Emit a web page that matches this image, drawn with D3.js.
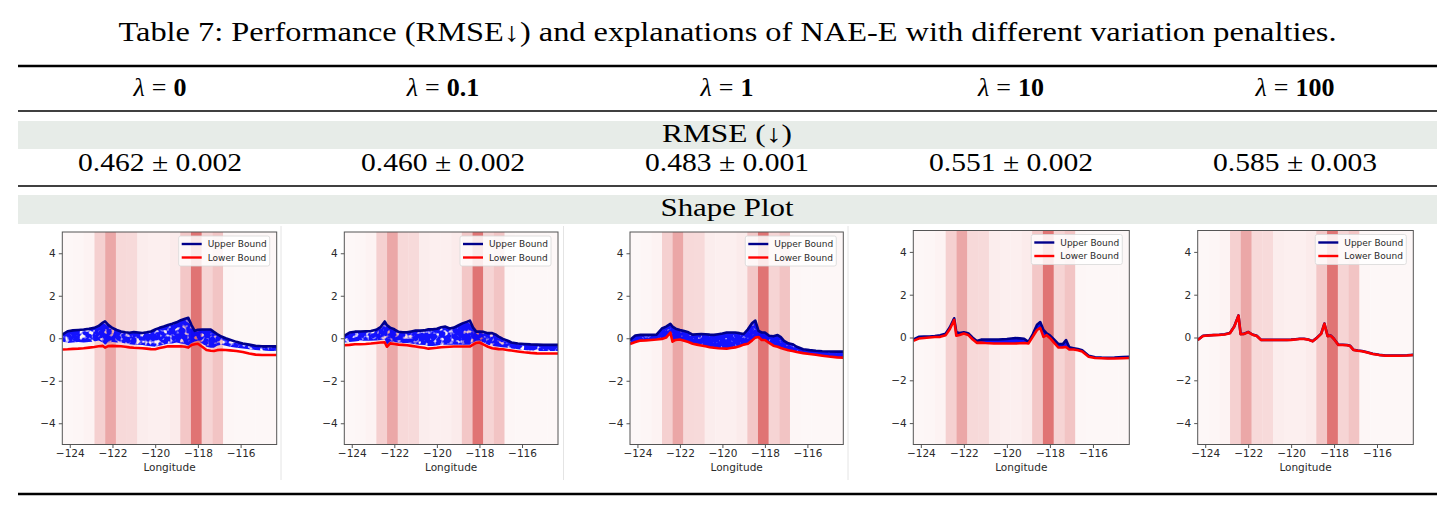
<!DOCTYPE html>
<html>
<head>
<meta charset="utf-8">
<script src="https://cdn.jsdelivr.net/npm/d3@7"></script>
<style>
  body { margin: 0; background: #fff; }
  svg { display: block; }
</style>
</head>
<body>
<svg id="table7" width="1455" height="510"></svg>
<script>
// ---- data ----
var lambdas = ["0", "0.1", "1", "10", "100"];
var rmseMean = ["0.462", "0.460", "0.483", "0.551", "0.585"];
var rmseStd = ["0.002", "0.002", "0.001", "0.002", "0.003"];

var xTicks = [-124, -122, -120, -118, -116];
var yTicks = [-4, -2, 0, 2, 4];
var lonMin = -124.35, lonMax = -114.31;

// importance of each 0.5 degree longitude bin (background shading), 20 bins
var binImportance = [0.02, 0.03, 0.05, 0.31, 0.62, 0.25, 0.24, 0.10, 0.08, 0.08, 0.11,
                     0.38, 1.0, 0.28, 0.40, 0.03, 0.02, 0.02, 0.02, 0.02];

var lonGrid = [-124.35, -124.1, -123.85, -123.6, -123.35, -123.1, -122.85, -122.65, -122.45, -122.35,
               -122.2, -122.0, -121.8, -121.6, -121.4, -121.2, -121.0, -120.8, -120.6, -120.4,
               -120.2, -120.0, -119.8, -119.6, -119.4, -119.2, -119.0, -118.8, -118.6, -118.45,
               -118.3, -118.15, -118.0, -117.8, -117.6, -117.4, -117.25, -117.1, -116.9, -116.7,
               -116.5, -116.2, -115.9, -115.6, -115.3, -115.0, -114.6, -114.31];

var upper0 = [0.17, 0.33, 0.37, 0.39, 0.41, 0.44, 0.49, 0.58, 0.74, 0.80,
              0.63, 0.48, 0.39, 0.32, 0.28, 0.26, 0.29, 0.27, 0.25, 0.28,
              0.32, 0.41, 0.49, 0.55, 0.62, 0.68, 0.75, 0.85, 0.92, 0.96,
              0.62, 0.35, 0.40, 0.41, 0.41, 0.41, 0.30, 0.20, 0.08, 0.0,
              -0.07, -0.17, -0.25, -0.30, -0.35, -0.38, -0.38, -0.38];
var lower0 = [-0.53, -0.52, -0.50, -0.49, -0.47, -0.44, -0.41, -0.38, -0.36, -0.44,
              -0.37, -0.36, -0.37, -0.38, -0.40, -0.43, -0.45, -0.46, -0.47, -0.49,
              -0.51, -0.52, -0.46, -0.42, -0.38, -0.38, -0.38, -0.38, -0.40, -0.44,
              -0.32, -0.28, -0.26, -0.40, -0.55, -0.59, -0.60, -0.56, -0.54, -0.55,
              -0.57, -0.60, -0.65, -0.72, -0.77, -0.79, -0.79, -0.79];
var cloud0 = [-0.15, -0.22, -0.20, -0.18, -0.20, -0.18, -0.15, -0.10, -0.20, -0.30,
              -0.20, -0.18, -0.20, -0.20, -0.25, -0.28, -0.30, -0.30, -0.32, -0.35,
              -0.38, -0.40, -0.35, -0.30, -0.25, -0.25, -0.20, -0.25, -0.28, -0.35,
              -0.22, -0.15, -0.12, -0.25, -0.40, -0.45, -0.45, -0.35, -0.30, -0.35,
              -0.40, -0.45, -0.48, -0.52, -0.55, -0.58, -0.60, -0.60];

var upper1 = [0.11, 0.27, 0.31, 0.32, 0.33, 0.34, 0.40, 0.52, 0.79, 0.62,
              0.50, 0.42, 0.30, 0.28, 0.28, 0.32, 0.36, 0.36, 0.37, 0.42,
              0.42, 0.45, 0.52, 0.55, 0.46, 0.50, 0.60, 0.70, 0.77, 0.83,
              0.50, 0.31, 0.31, 0.30, 0.24, 0.24, 0.18, 0.08, -0.03, -0.10,
              -0.20, -0.25, -0.27, -0.29, -0.30, -0.31, -0.31, -0.31];
var lower1 = [-0.33, -0.31, -0.28, -0.28, -0.27, -0.25, -0.22, -0.20, -0.19, -0.40,
              -0.24, -0.27, -0.30, -0.31, -0.33, -0.36, -0.39, -0.42, -0.45, -0.49,
              -0.47, -0.45, -0.42, -0.41, -0.40, -0.39, -0.39, -0.39, -0.39, -0.39,
              -0.30, -0.22, -0.20, -0.30, -0.40, -0.47, -0.49, -0.51, -0.52, -0.55,
              -0.58, -0.62, -0.66, -0.69, -0.71, -0.72, -0.72, -0.72];
var cloud1 = [-0.20, -0.18, -0.15, -0.12, -0.12, -0.12, -0.10, -0.08, -0.05, -0.30,
              -0.15, -0.18, -0.20, -0.22, -0.22, -0.25, -0.28, -0.30, -0.32, -0.36,
              -0.36, -0.34, -0.30, -0.30, -0.30, -0.30, -0.30, -0.30, -0.30, -0.30,
              -0.20, -0.12, -0.10, -0.20, -0.30, -0.35, -0.38, -0.40, -0.42, -0.45,
              -0.48, -0.52, -0.55, -0.58, -0.60, -0.60, -0.60, -0.60];

var upper2 = [-0.08, 0.13, 0.16, 0.16, 0.16, 0.17, 0.46, 0.55, 0.68, 0.55,
              0.45, 0.39, 0.34, 0.28, 0.17, 0.19, 0.20, 0.19, 0.17, 0.16,
              0.19, 0.22, 0.27, 0.27, 0.27, 0.24, 0.20, 0.42, 0.72, 0.83,
              0.35, 0.27, 0.27, 0.12, 0.09, 0.15, 0.05, -0.12, -0.24, -0.28,
              -0.40, -0.52, -0.56, -0.59, -0.61, -0.62, -0.63, -0.63];
var lower2 = [-0.27, -0.18, -0.11, -0.10, -0.08, -0.06, -0.03, 0.03, 0.27, -0.16,
              -0.08, -0.06, -0.12, -0.18, -0.26, -0.30, -0.34, -0.38, -0.42, -0.45,
              -0.47, -0.48, -0.49, -0.46, -0.43, -0.38, -0.30, -0.26, -0.10, 0.03,
              0.06, -0.08, -0.08, -0.22, -0.35, -0.40, -0.46, -0.51, -0.56, -0.60,
              -0.65, -0.70, -0.74, -0.78, -0.82, -0.86, -0.90, -0.91];

var upper3 = [-0.09, 0.03, 0.04, 0.05, 0.07, 0.10, 0.18, 0.48, 0.90, 0.25,
              0.21, 0.24, 0.20, 0.0, -0.16, -0.10, -0.09, -0.09, -0.09, -0.09,
              -0.08, -0.07, -0.05, -0.03, -0.04, -0.06, -0.20, 0.15, 0.60, 0.72,
              0.35, 0.19, 0.10, -0.10, -0.31, -0.31, -0.12, -0.46, -0.50, -0.54,
              -0.60, -0.85, -0.92, -0.94, -0.95, -0.94, -0.91, -0.90];
var lower3 = [-0.16, -0.05, -0.02, 0.0, 0.02, 0.03, 0.10, 0.40, 0.82, 0.08,
              0.12, 0.19, 0.12, -0.08, -0.25, -0.24, -0.26, -0.27, -0.28, -0.28,
              -0.28, -0.28, -0.28, -0.28, -0.27, -0.26, -0.28, 0.03, 0.35, 0.45,
              0.03, 0.11, -0.02, -0.25, -0.47, -0.46, -0.44, -0.56, -0.56, -0.60,
              -0.65, -0.90, -0.96, -0.97, -0.98, -0.98, -0.97, -0.96];

var upper4 = [-0.11, 0.08, 0.10, 0.12, 0.13, 0.15, 0.21, 0.51, 1.03, 0.16,
              0.17, 0.26, 0.14, 0.08, -0.11, -0.11, -0.11, -0.11, -0.11, -0.11,
              -0.11, -0.10, -0.08, -0.06, -0.06, -0.09, -0.17, -0.01, 0.18, 0.65,
              0.07, 0.09, -0.07, -0.34, -0.34, -0.35, -0.39, -0.57, -0.61, -0.63,
              -0.68, -0.76, -0.81, -0.84, -0.84, -0.84, -0.83, -0.81];
var lower4 = [-0.12, 0.07, 0.09, 0.11, 0.12, 0.14, 0.20, 0.50, 1.02, 0.15,
              0.16, 0.25, 0.13, 0.07, -0.12, -0.12, -0.12, -0.12, -0.12, -0.12,
              -0.12, -0.11, -0.09, -0.07, -0.07, -0.10, -0.18, -0.02, 0.17, 0.64,
              0.06, 0.08, -0.08, -0.35, -0.35, -0.36, -0.40, -0.58, -0.62, -0.64,
              -0.69, -0.77, -0.82, -0.85, -0.85, -0.85, -0.84, -0.82];

var upperAll = [upper0, upper1, upper2, upper3, upper4];
var lowerAll = [lower0, lower1, lower2, lower3, lower4];
var cloudAll = [cloud0, cloud1, lower2, lower3, lower4];

// ---- layout ----
var svg = d3.select("#table7");
var W = 1455, left = 18, right = 1437;
var colX = [160, 443, 727, 1011, 1295];
var serif = "'Liberation Serif', 'DejaVu Serif', serif";
var sans = "'DejaVu Sans', sans-serif";

// panel frames (pixel boxes of each matplotlib axes)
var panels = [
  {x0: 62.3, x1: 276.7, y0: 232, y1: 444.5},
  {x0: 344.3, x1: 558, y0: 232, y1: 444.5},
  {x0: 630, x1: 843.3, y0: 232, y1: 444.5},
  {x0: 913.3, x1: 1129.3, y0: 230.5, y1: 444.5},
  {x0: 1197.7, x1: 1413.3, y0: 230.5, y1: 444.5}
];

svg.append("text")
    .attr("x", W / 2).attr("y", 41)
    .attr("text-anchor", "middle")
    .attr("font-family", serif).attr("font-size", 27)
    .attr("textLength", 1218).attr("lengthAdjust", "spacingAndGlyphs")
    .text("Table 7: Performance (RMSE\u2193) and explanations of NAE-E with different variation penalties.");

// rules and shaded bands
function rule(y, w) {
  svg.append("line").attr("x1", left).attr("x2", right).attr("y1", y).attr("y2", y)
      .attr("stroke", "#000").attr("stroke-width", w);
}
rule(66, 2.6);
rule(111, 1.3);
rule(186, 1.6);
rule(494, 2.6);

svg.append("rect").attr("x", left).attr("y", 121).attr("width", right - left).attr("height", 28)
    .attr("fill", "#e7ece8");
svg.append("rect").attr("x", left).attr("y", 195).attr("width", right - left).attr("height", 29)
    .attr("fill", "#e7ece8");

// header row
var head = svg.append("g").selectAll("text")
    .data(lambdas)
    .enter().append("text")
      .attr("x", function(d, i) { return colX[i]; })
      .attr("y", 96)
      .attr("text-anchor", "middle")
      .attr("font-family", serif)
      .attr("font-size", 26);
head.append("tspan").attr("font-style", "italic").text("\u03bb");
head.append("tspan").attr("dx", 7).text("=");
head.append("tspan").attr("dx", 7).attr("font-weight", "bold").text(function(d) { return d; });

svg.append("text").attr("x", 727).attr("y", 142).attr("text-anchor", "middle")
    .attr("font-family", serif).attr("font-size", 25)
    .attr("textLength", 130).attr("lengthAdjust", "spacingAndGlyphs")
    .text("RMSE (\u2193)");

svg.append("g").selectAll("text")
    .data(rmseMean)
    .enter().append("text")
      .attr("x", function(d, i) { return colX[i]; })
      .attr("y", 171)
      .attr("text-anchor", "middle")
      .attr("font-family", serif).attr("font-size", 26)
      .attr("textLength", 164).attr("lengthAdjust", "spacingAndGlyphs")
      .text(function(d, i) { return d + " \u00b1 " + rmseStd[i]; });

svg.append("text").attr("x", 727).attr("y", 216).attr("text-anchor", "middle")
    .attr("font-family", serif).attr("font-size", 25)
    .attr("textLength", 133).attr("lengthAdjust", "spacingAndGlyphs")
    .text("Shape Plot");

// faint borders of the pasted figure images
[281, 563.5, 848].forEach(function(x) {
  svg.append("line").attr("x1", x).attr("x2", x).attr("y1", 226).attr("y2", 480)
      .attr("stroke", "#e4e4e4").attr("stroke-width", 1);
});

var shade = d3.scaleLinear().domain([0, 1]).range(["#fefafa", "#e07474"]);
var defs = svg.append("defs");

// speckle texture for the scatter cloud
function speckle(id, freq, a, b) {
  var f = defs.append("filter").attr("id", id)
      .attr("x", 0).attr("y", 0).attr("width", 1).attr("height", 1);
  f.append("feTurbulence").attr("type", "fractalNoise").attr("baseFrequency", freq)
      .attr("numOctaves", 2).attr("seed", 5).attr("result", "noise");
  f.append("feColorMatrix").attr("in", "noise").attr("type", "matrix")
      .attr("values", "0 0 0 0 0  0 0 0 0 0  0 0 0 0 0  0 0 0 " + a + " " + b).attr("result", "mask");
  f.append("feComposite").attr("in", "SourceGraphic").attr("in2", "mask").attr("operator", "in");
}
speckle("speckle", 0.2, -5, 3.7);
speckle("speckleLight", 0.25, -4, 3.6);

panels.forEach(function(p, k) {
  var x = d3.scaleLinear().domain([lonMin, lonMax]).range([p.x0, p.x1]);
  var y = d3.scaleLinear().domain([-5, 5]).range([p.y1, p.y0]);
  var g = svg.append("g");

  defs.append("clipPath").attr("id", "clip" + k)
    .append("rect").attr("x", p.x0).attr("y", p.y0)
      .attr("width", p.x1 - p.x0).attr("height", p.y1 - p.y0);

  var bw = (lonMax - lonMin) / binImportance.length;
  g.append("g").selectAll("rect")
    .data(binImportance)
    .enter().append("rect")
      .attr("x", function(d, i) { return x(lonMin + i * bw); })
      .attr("width", function(d, i) { return x(lonMin + (i + 1) * bw) - x(lonMin + i * bw) + 0.3; })
      .attr("y", p.y0)
      .attr("height", p.y1 - p.y0)
      .attr("fill", function(d) { return shade(d); });

  var pts = lonGrid.map(function(lon, i) {
    return {lon: lon, up: upperAll[k][i], lo: lowerAll[k][i], cl: cloudAll[k][i]};
  });

  var plot = g.append("g").attr("clip-path", "url(#clip" + k + ")");

  if (k < 4) {
    plot.append("path")
        .datum(pts)
        .attr("fill", "#0000ff")
        .attr("fill-opacity", 0.92)
        .attr("filter", k < 2 ? "url(#speckle)" : (k === 2 ? "url(#speckleLight)" : null))
        .attr("d", d3.area()
          .x(function(d) { return x(d.lon); })
          .y0(function(d) { return y(d.cl); })
          .y1(function(d) { return y(d.up); }));
  }

  plot.append("path")
      .datum(pts)
      .attr("fill", "none")
      .attr("stroke", "#00008b")
      .attr("stroke-width", 2.6)
      .attr("stroke-linejoin", "round")
      .attr("d", d3.line().x(function(d) { return x(d.lon); }).y(function(d) { return y(d.up); }));

  plot.append("path")
      .datum(pts)
      .attr("fill", "none")
      .attr("stroke", "#ff0000")
      .attr("stroke-width", 2.6)
      .attr("stroke-linejoin", "round")
      .attr("d", d3.line().x(function(d) { return x(d.lon); }).y(function(d) { return y(d.lo); }));

  g.append("rect")
      .attr("x", p.x0).attr("y", p.y0)
      .attr("width", p.x1 - p.x0).attr("height", p.y1 - p.y0)
      .attr("fill", "none").attr("stroke", "#555").attr("stroke-width", 1);

  var xa = g.append("g")
      .attr("transform", "translate(0," + p.y1 + ")")
      .call(d3.axisBottom(x).tickValues(xTicks).tickSize(3.5).tickPadding(2).tickFormat(d3.format("d")));
  var ya = g.append("g")
      .attr("transform", "translate(" + p.x0 + ",0)")
      .call(d3.axisLeft(y).tickValues(yTicks).tickSize(3.5).tickPadding(3).tickFormat(d3.format("d")));
  [xa, ya].forEach(function(a) {
    a.select(".domain").remove();
    a.selectAll("line").attr("stroke", "#555");
    a.selectAll("text").attr("font-family", sans).attr("font-size", 10.5).attr("fill", "#2a2a2a");
  });

  g.append("text")
      .attr("x", (p.x0 + p.x1) / 2).attr("y", 471)
      .attr("text-anchor", "middle")
      .attr("font-family", sans).attr("font-size", 10.5).attr("fill", "#2a2a2a")
      .text("Longitude");

  // legend
  var lg = g.append("g").attr("transform", "translate(" + (p.x1 - 98) + "," + (p.y0 + 4) + ")");
  lg.append("rect").attr("width", 91).attr("height", 30).attr("rx", 2)
      .attr("fill", "#fff").attr("fill-opacity", 0.85).attr("stroke", "#d8d8d8").attr("stroke-width", 0.8);
  var items = [{name: "Upper Bound", color: "#00008b"}, {name: "Lower Bound", color: "#ff0000"}];
  var it = lg.selectAll("g.item").data(items).enter().append("g")
      .attr("class", "item")
      .attr("transform", function(d, i) { return "translate(0," + (8 + i * 13.5) + ")"; });
  it.append("line").attr("x1", 3).attr("x2", 23).attr("stroke", function(d) { return d.color; })
      .attr("stroke-width", 2.4);
  it.append("text").attr("x", 29).attr("dy", "0.35em")
      .attr("font-family", sans).attr("font-size", 9).attr("fill", "#2a2a2a")
      .text(function(d) { return d.name; });
});
</script>
</body>
</html>
